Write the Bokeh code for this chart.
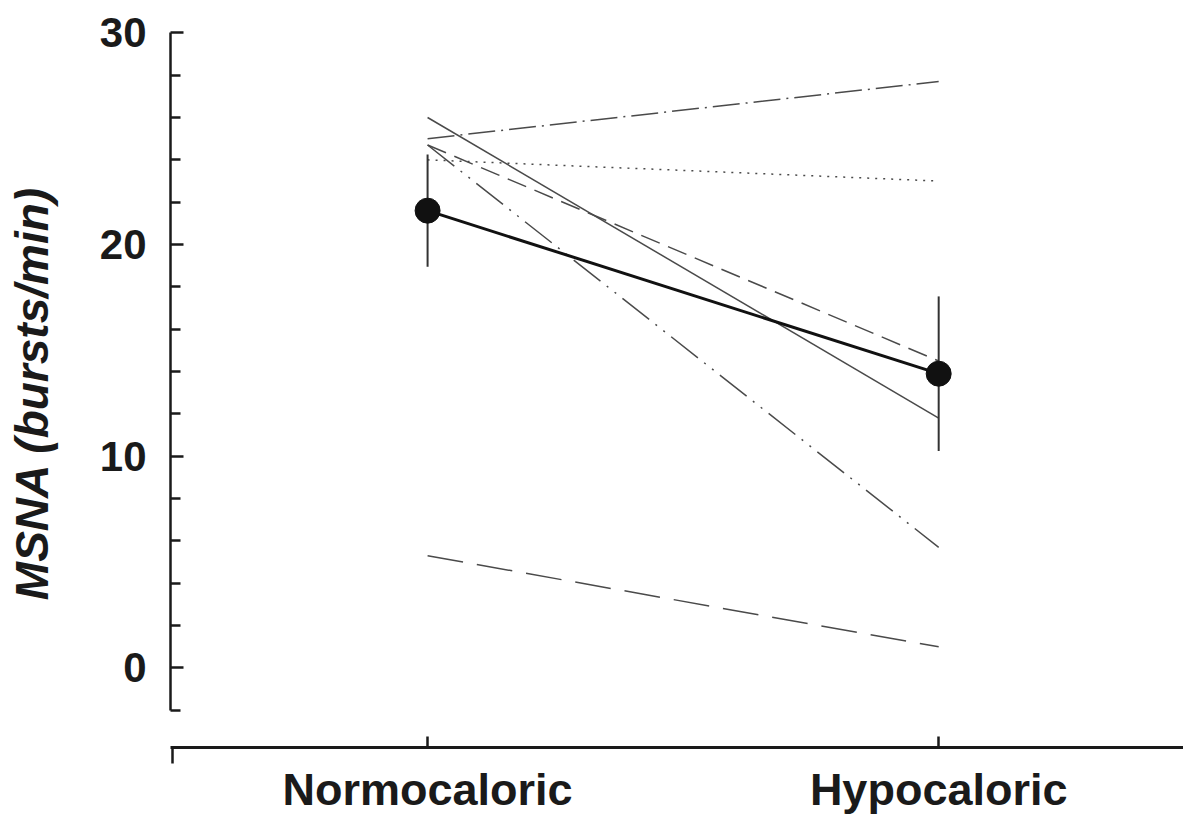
import math
from bokeh.plotting import figure
from bokeh.models import FixedTicker, Range1d
from bokeh.embed import file_html
from bokeh.resources import INLINE

# ---- data ----
conditions = ["Normocaloric", "Hypocaloric"]
cond_x = [0, 1]
y_ticks = [0, 10, 20, 30]
y_minor = [-2, 2, 4, 6, 8, 12, 14, 16, 18, 22, 24, 26, 28]

subj_dashdot = [25.0, 27.7]
subj_solid = [26.0, 11.8]
subj_dotted = [24.0, 23.0]
subj_dashed = [24.7, 14.5]
subj_dashdotdot = [24.7, 5.7]
subj_longdash = [5.3, 1.0]

mean_msna = [21.6, 13.9]
sem_msna = [2.65, 3.65]

y_title = "MSNA (bursts/min)"

# ---- figure ----
FONT = "Liberation Sans"
INK = "#1a1a1a"
GRAY = "#4a4a4a"

p = figure(width=1183, height=817,
           x_range=Range1d(-0.503, 1.479), y_range=Range1d(-3.755, 31.526),
           output_backend="svg", toolbar_location=None,
           min_border_left=170, min_border_right=0,
           min_border_top=0, min_border_bottom=70)
p.outline_line_color = None
p.grid.visible = False
p.background_fill_color = "white"

# y axis
ya = p.yaxis[0]
ya.ticker = FixedTicker(ticks=y_ticks, minor_ticks=y_minor)
ya.bounds = (-2, 30)
ya.axis_line_width = 2.5
ya.axis_line_color = INK
ya.major_tick_in = 13
ya.major_tick_out = 0
ya.minor_tick_in = 10
ya.minor_tick_out = 0
ya.major_tick_line_width = 2.5
ya.minor_tick_line_width = 2.5
ya.major_tick_line_color = INK
ya.minor_tick_line_color = INK
ya.major_label_standoff = 24
ya.major_label_text_font = FONT
ya.major_label_text_font_style = "bold"
ya.major_label_text_font_size = "42px"
ya.major_label_text_color = INK
# trailing no-break spaces nudge the centred title down to match the reference
ya.axis_label = y_title + "\u00a0" * 3
ya.axis_label_standoff = 39
ya.axis_label_text_font = FONT
ya.axis_label_text_font_style = "bold italic"
ya.axis_label_text_font_size = "46px"
ya.axis_label_text_color = INK

# x axis
xa = p.xaxis[0]
xa.ticker = FixedTicker(ticks=cond_x, minor_ticks=[-0.5])
xa.major_label_overrides = {cx: name for cx, name in zip(cond_x, conditions)}
xa.axis_line_width = 3
xa.axis_line_color = INK
xa.major_tick_in = 11
xa.major_tick_out = 0
xa.minor_tick_in = 0
xa.minor_tick_out = 16
xa.major_tick_line_width = 2.5
xa.minor_tick_line_width = 2.5
xa.major_tick_line_color = INK
xa.minor_tick_line_color = INK
xa.major_label_standoff = 0
xa.major_label_text_font = FONT
xa.major_label_text_font_style = "bold"
xa.major_label_text_font_size = "45px"
xa.major_label_text_color = INK

# individual subjects
subj_styles = [
    (subj_dashdot, "27 6 2 6"),
    (subj_solid, "solid"),
    (subj_dotted, "2 6"),
    (subj_dashed, "20 9"),
    (subj_dashdotdot, "34 8 2 8 2 8"),
    (subj_longdash, "36 14"),
]
for vals, dash in subj_styles:
    p.line(cond_x, vals, line_color=GRAY, line_width=1.5, line_dash=dash)

# mean line
p.line(cond_x, mean_msna, line_color="#111111", line_width=3)

# error bars
lo = [m - s for m, s in zip(mean_msna, sem_msna)]
hi = [m + s for m, s in zip(mean_msna, sem_msna)]
p.segment(x0=cond_x, y0=lo, x1=cond_x, y1=hi, line_color="#333333", line_width=2)

# mean markers
p.scatter(cond_x, mean_msna, size=25, fill_color="#111111", line_color="#111111")

open("out.html", "w").write(file_html(p, INLINE))
